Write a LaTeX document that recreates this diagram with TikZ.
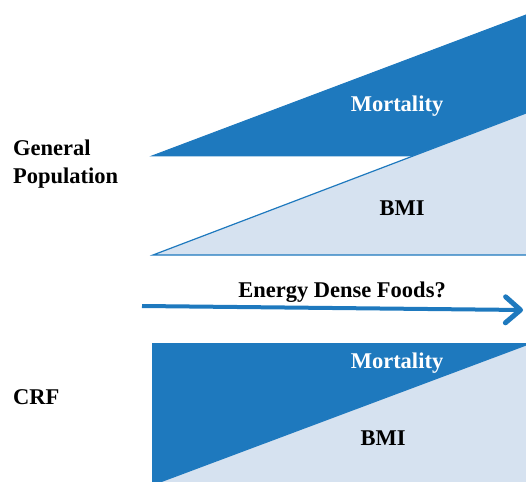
\documentclass[tikz,border=0pt]{standalone}
\usepackage{fontspec}
\setmainfont{Liberation Serif}
\usepackage{tikz}
\usetikzlibrary{arrows.meta}

\definecolor{darkblue}{RGB}{30,121,190}
\definecolor{paleblue}{RGB}{214,226,240}

\tikzset{
  darkpart/.style={fill=darkblue,draw=darkblue,line width=1bp,line join=miter},
  palepart/.style={fill=paleblue},
  paleedge/.style={draw=darkblue,line width=1.2bp},
  lbl/.style={font=\fontsize{22.5bp}{28bp}\selectfont\bfseries,inner sep=0pt},
  grouplbl/.style={lbl,anchor=west,align=left},
  flow/.style={draw=darkblue,line width=4bp,-{Straight Barb[round,length=15bp,width=26bp,line width=5bp]}},
}

\begin{document}
\begin{tikzpicture}[x=1bp,y=-1bp]
\useasboundingbox (0,0) rectangle (526,482);

% Wedge: general population, mortality
\draw[darkpart] (152,156) -- (526,15) -- (526,113) -- (411,156) -- cycle;

% Wedge: general population, BMI
\fill[palepart] (153,255) -- (526,113) -- (526,255) -- cycle;
\draw[paleedge] (526,113) -- (153,255) -- (526,255);

% Block: CRF, mortality
\fill[darkblue] (152,343) rectangle (526,482);

% Wedge: CRF, BMI
\fill[palepart] (160,482) -- (526,345) -- (526,482) -- cycle;
\draw[paleedge] (160,482) -- (526,345);

% Node: general population
\node[grouplbl] (genpop) at (13,164) {General\\Population};

% Node: CRF
\node[grouplbl] (crf) at (13,397) {CRF};

% Nodes: wedge labels
\node[lbl,text=white] (mort1) at (397,106) {Mortality};
\node[lbl] (bmi1) at (402,208) {BMI};
\node[lbl,text=white] (mort2) at (397,363) {Mortality};
\node[lbl] (bmi2) at (383,438) {BMI};

% Edge: food trend
\coordinate (foodstart) at (142,306);
\coordinate (foodend) at (523,310);
\draw[flow] (foodstart) -- (foodend);
\node[lbl] (foods) at (342,292) {Energy Dense Foods?};

\end{tikzpicture}
\end{document}
